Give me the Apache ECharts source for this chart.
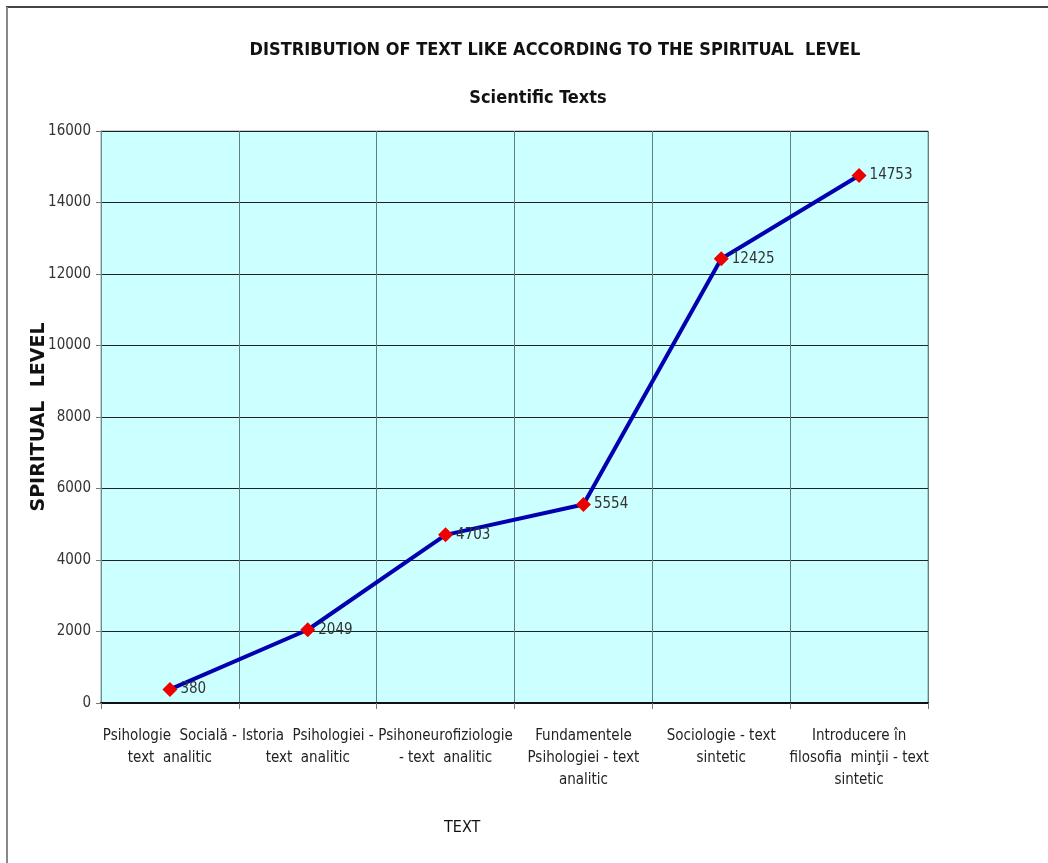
<!DOCTYPE html>
<html><head><meta charset="utf-8">
<script src="https://cdn.jsdelivr.net/npm/echarts@6/dist/echarts.min.js"></script>
<style>html,body{margin:0;padding:0;background:#fff}#c{width:1048px;height:863px}</style>
</head><body><div id="c"></div>
<script>
const categories = [
  "Psihologie  Socială -\ntext  analitic",
  "Istoria  Psihologiei -\ntext  analitic",
  "Psihoneurofiziologie\n- text  analitic",
  "Fundamentele\nPsihologiei - text\nanalitic",
  "Sociologie - text\nsintetic",
  "Introducere în\nfilosofia  minţii - text\nsintetic"
];
const values = [380, 2049, 4703, 5554, 12425, 14753];
const yTicks = [0, 2000, 4000, 6000, 8000, 10000, 12000, 14000, 16000];
const titleText = "DISTRIBUTION OF TEXT LIKE ACCORDING TO THE SPIRITUAL  LEVEL";
const subtitleText = "Scientific Texts";
const xName = "TEXT";
const yName = "SPIRITUAL  LEVEL";

const NARROW = "'Liberation Sans Narrow','DejaVu Sans Condensed','Arial Narrow',sans-serif";
const chart = echarts.init(document.getElementById('c'), null, {renderer: 'canvas'});
chart.setOption({
  backgroundColor: '#ffffff',
  animation: false,
  title: [
    {text: titleText, left: 550, top: 36, textAlign: 'center',
     textStyle: {fontFamily: NARROW, fontSize: 18, fontWeight: 'bold', color: '#111'}},
    {text: subtitleText, left: 533, top: 84, textAlign: 'center',
     textStyle: {fontFamily: NARROW, fontSize: 18, fontWeight: 'bold', color: '#111'}}
  ],
  graphic: [
    {type: 'line', shape: {x1: 6, y1: 7, x2: 1048, y2: 7}, style: {stroke: '#444', lineWidth: 2}, silent: true},
    {type: 'line', shape: {x1: 7, y1: 7, x2: 7, y2: 863}, style: {stroke: '#888', lineWidth: 2}, silent: true},
    {type: 'text', left: 444, top: 820, style: {text: xName, font: '16px ' + NARROW, fill: '#111'}}
  ],
  grid: {left: 101, right: 120, top: 131, bottom: 160, show: true,
         backgroundColor: '#ccffff', borderColor: '#7fa0a0', borderWidth: 1},
  xAxis: {
    type: 'category', data: categories, boundaryGap: true,
    axisLine: {show: true, lineStyle: {color: '#111', width: 2}},
    axisTick: {show: true, alignWithLabel: false, length: 6, lineStyle: {color: '#777'}},
    axisLabel: {interval: 0, margin: 22, fontFamily: NARROW, fontSize: 15, lineHeight: 22, color: '#222', align: 'center'},
    splitLine: {show: true, interval: 0, lineStyle: {color: '#5f8080', width: 1}}
  },
  yAxis: {
    type: 'value', min: yTicks[0], max: yTicks[yTicks.length - 1], interval: 2000,
    name: yName, nameLocation: 'middle', nameGap: 52, nameRotate: 90, nameMoveOverlap: false,
    nameTextStyle: {fontFamily: "'DejaVu Sans','Liberation Sans',Arial,sans-serif", fontSize: 19, fontWeight: 'bold', color: '#111'},
    axisLine: {show: true, lineStyle: {color: '#6f9090', width: 1}},
    axisTick: {show: true, length: 5, lineStyle: {color: '#777'}},
    axisLabel: {margin: 10, fontFamily: NARROW, fontSize: 15, color: '#333', formatter: v => String(v)},
    splitLine: {show: true, lineStyle: {color: '#222', width: 1}}
  },
  series: [{
    type: 'line', data: values,
    lineStyle: {color: '#0000b0', width: 4},
    symbol: 'diamond', symbolSize: 15,
    itemStyle: {color: '#ee0000'},
    label: {show: true, position: 'right', distance: 3, fontFamily: NARROW, fontSize: 15, color: '#333'},
    z: 5
  }]
});
</script></body></html>
